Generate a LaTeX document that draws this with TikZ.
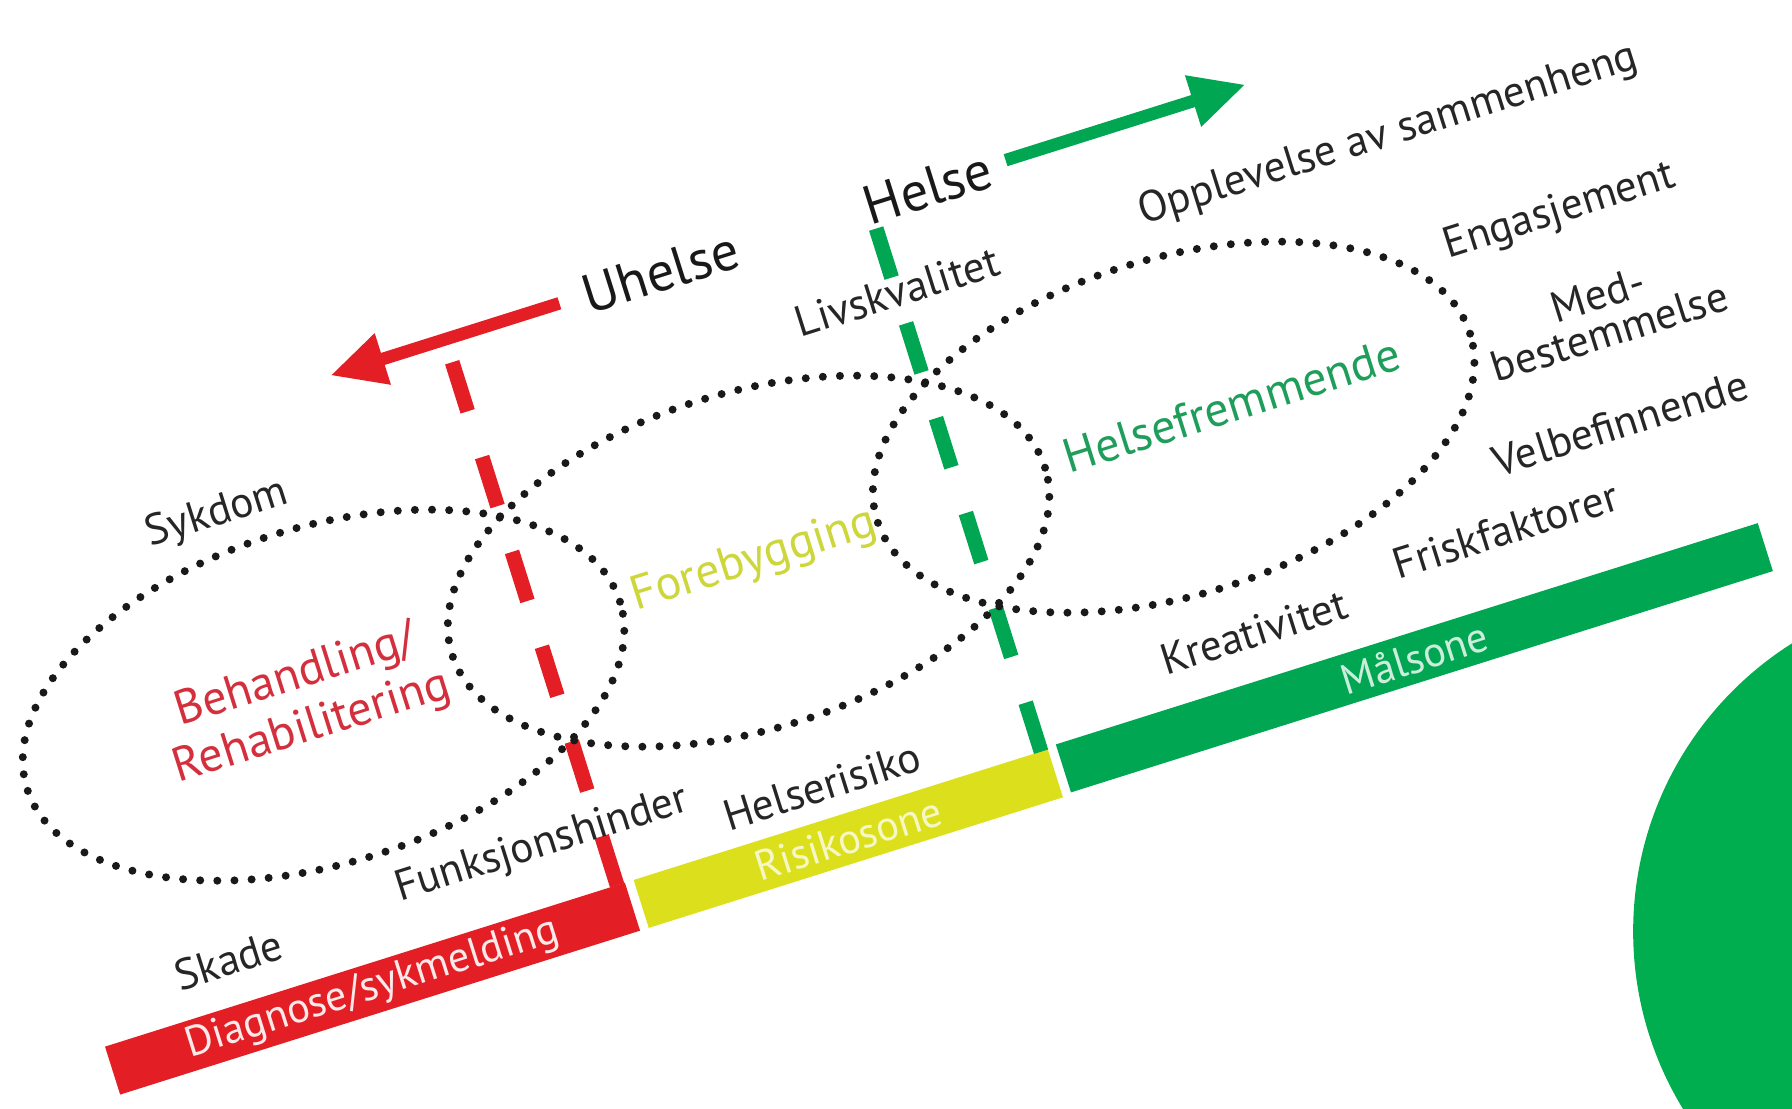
\documentclass[tikz,border=0pt]{standalone}
\usepackage{fontspec}
\setmainfont{PT Sans}
\usepackage{tikz}
\usetikzlibrary{arrows.meta}
\usetikzlibrary{positioning}
\definecolor{redz}{HTML}{E31E24}
\definecolor{yelz}{HTML}{DCE01C}
\definecolor{grnz}{HTML}{00A651}
\definecolor{grnc}{HTML}{00AE50}
\definecolor{redt}{HTML}{D42F3D}
\definecolor{yelt}{HTML}{CDD63A}
\definecolor{grnt}{HTML}{1E9E5A}
\tikzset{dots/.style={line width=7pt, dash pattern=on 0pt off 15pt, line cap=round, black!90}}
\tikzset{cut/.style={line width=13pt, dash pattern=on 45pt off 42pt}}
\tikzset{bar/.style={rectangle, inner sep=0pt, minimum height=44pt, anchor=south west, font=\fontsize{37}{38}\selectfont}}
\tikzset{lbl/.style={font=\fontsize{38}{34}\selectfont, text=black!85, inner sep=0pt, align=center}}
\tikzset{zone/.style={font=\fontsize{42}{47}\selectfont, align=center, inner sep=0pt}}
\tikzset{big/.style={font=\fontsize{48}{50}\selectfont, text=black!90, inner sep=0pt}}
\tikzset{pointer/.style={line width=11pt, -{Triangle[length=48pt,width=44pt]}}}

\begin{document}
\begin{tikzpicture}[x=1pt, y=1pt]
\useasboundingbox (0,0) rectangle (1568,-970);
\clip (0,0) rectangle (1568,-970);

\fill[grnc] (1727,-815) circle (298);

\begin{scope}[shift={(105,-958)}, rotate=17.5, transform shape]

% zones along the bottom
\node[bar, fill=redz, text=redz!10, minimum width=477pt] (diag) at (0,0) {Diagnose/sykmelding};
\node[bar, fill=yelz, text=yelz!25, minimum width=380pt] (risk) at (485,0) {Risikosone};
\node[bar, fill=grnz, text=grnz!20, minimum width=644pt] (maal) at (873,2) {Målsone};

% borders between the zones
\coordinate (rtop) at (470,524);
\coordinate (rbot) at (470,44);
\coordinate (gtop) at (859,524);
\coordinate (gbot) at (859,44);
\draw[cut, redz] (rtop) -- (rbot);
\draw[cut, grnz] (gtop) -- (gbot);

% the three fields
\foreach \i/\cx in {1/275, 2/665, 3/1055}
  {
 \coordinate (e\i) at (\cx, 280);
 \draw[dots] (e\i) ellipse [x radius=272, y radius=147];
  }

\node[zone, text=redt] (beh) at (257,279) {Behandling/\\Rehabilitering};
\node[zone, text=yelt] (fore) at (670,279) {Forebygging};
\node[zone, text=grnt] (hfr) at (1109,283) {Helsefremmende};

% directions
\node[big, anchor=base west] (uhelse) at (597,528) {Uhelse};
\node[big, anchor=base] (helse) at (913,528) {Helse};
\coordinate (u0) at (575,545);
\coordinate (u1) at (365,545);
\coordinate (h0) at (985,547);
\coordinate (h1) at (1205,547);
\draw[pointer, redz] (u0) -- (u1);
\draw[pointer, grnz] (h0) -- (h1);

% words round the fields
\node[lbl] (sykdom) at (234,459) {Sykdom};
\node[lbl] (skade) at (126,84) {Skade};
\node[lbl] (funk) at (418,97) {Funksjonshinder};
\node[lbl] (hrisk) at (667,73) {Helserisiko};
\node[lbl] (krea) at (1068,88) {Kreativitet};
\node[lbl] (frisk) at (1305,107) {Friskfaktorer};
\node[lbl] (velb) at (1429,166) {Velbefinnende};
\node[lbl] (medb) at (1444,262) {Med-\\bestemmelse};
\node[lbl] (enga) at (1434,358) {Engasjement};
\node[lbl] (oppl) at (1311,467) {Opplevelse av sammenheng};
\node[lbl] (livs) at (860,466) {Livskvalitet};

\end{scope}
\end{tikzpicture}
\end{document}
